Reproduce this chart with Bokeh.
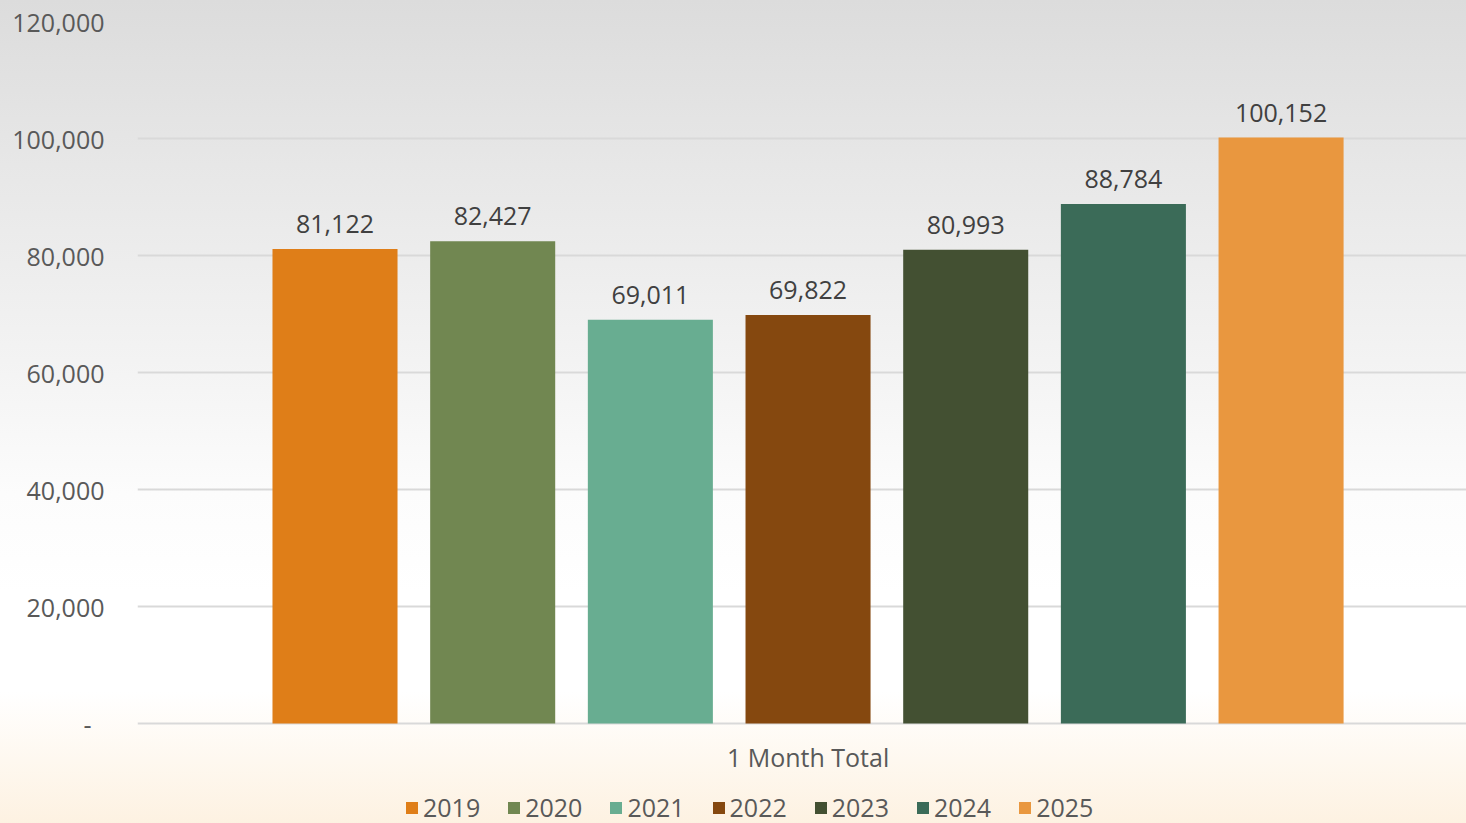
from bokeh.plotting import figure
from bokeh.models import ColumnDataSource, FixedTicker, NumeralTickFormatter, Range1d, Legend, LegendItem
from bokeh.core.properties import value
from bokeh.embed import file_html
from bokeh.resources import INLINE

years = ["2019", "2020", "2021", "2022", "2023", "2024", "2025"]
totals = [81122, 82427, 69011, 69822, 80993, 88784, 100152]
colors = ["#DF7E18", "#718751", "#68AD91", "#85480F", "#435032", "#3B6B58", "#E9973F"]
category = "1 Month Total"
y_ticks = [0, 20000, 40000, 60000, 80000, 100000, 120000]

FONT = "Open Sans"

src = ColumnDataSource(dict(
    x=list(range(len(years))),
    top=totals,
    color=colors,
    year=years,
    label=[f"{v:,}" for v in totals],
))

# frame spans 21..823 px; value 0 sits 100 px above the bottom edge (702 px per 120,000)
y_per_px = 120000 / 702
p = figure(width=1466, height=823, output_backend="svg", toolbar_location=None,
           x_range=Range1d(-1.2526, 7.176), y_range=Range1d(-100 * y_per_px, 120000),
           x_axis_location=None,
           min_border_left=137, min_border_right=0, min_border_top=21, min_border_bottom=0)

p.styles = {"background": "linear-gradient(to bottom, rgba(253,240,222,0) 84%, rgba(253,241,224,0.95) 100%), "
                          "linear-gradient(to bottom, #dcdcdc 0%, #e7e7e7 20%, #f2f2f2 42%, #fcfcfc 60%, #ffffff 72%)"}
p.border_fill_color = None
p.background_fill_color = None
p.outline_line_color = None

r = p.vbar(x="x", top="top", width=0.793, bottom=0, fill_color="color", line_color=None, source=src)

p.text(x="x", y="top", text="label", source=src, text_align="center", text_baseline="alphabetic",
       y_offset=-25, text_font=value(FONT), text_font_size="25px", text_color="#404040")

# category label under the axis line
p.text(x=[(len(years) - 1) / 2], y=[0], text=[category], text_align="center", text_baseline="middle",
       y_offset=33, text_font=value(FONT), text_font_size="25px", text_color="#595959")

# y axis
p.yaxis.ticker = FixedTicker(ticks=y_ticks)
p.yaxis.formatter = NumeralTickFormatter(format="0,0")
p.yaxis.major_label_overrides = {0: "-\u00a0\u00a0"}
p.yaxis.axis_line_color = None
p.yaxis.major_tick_line_color = None
p.yaxis.minor_tick_line_color = None
p.yaxis.major_label_standoff = 27
p.yaxis.major_label_text_font = FONT
p.yaxis.major_label_text_font_size = "25px"
p.yaxis.major_label_text_color = "#595959"

p.xgrid.visible = False
p.ygrid.ticker = FixedTicker(ticks=y_ticks)
p.ygrid.grid_line_color = "#d9d9d9"
p.ygrid.grid_line_width = 2

items = [LegendItem(label=y, renderers=[r], index=i) for i, y in enumerate(years)]
legend = Legend(items=items, orientation="horizontal", location=(267, -1),
                glyph_width=15, glyph_height=15, label_standoff=4, spacing=26,
                padding=0, margin=0, border_line_color=None, background_fill_alpha=0,
                label_text_font=FONT, label_text_font_size="25px", label_text_color="#595959")
p.add_layout(legend, "center")

open("out.html", "w").write(file_html(p, INLINE))
